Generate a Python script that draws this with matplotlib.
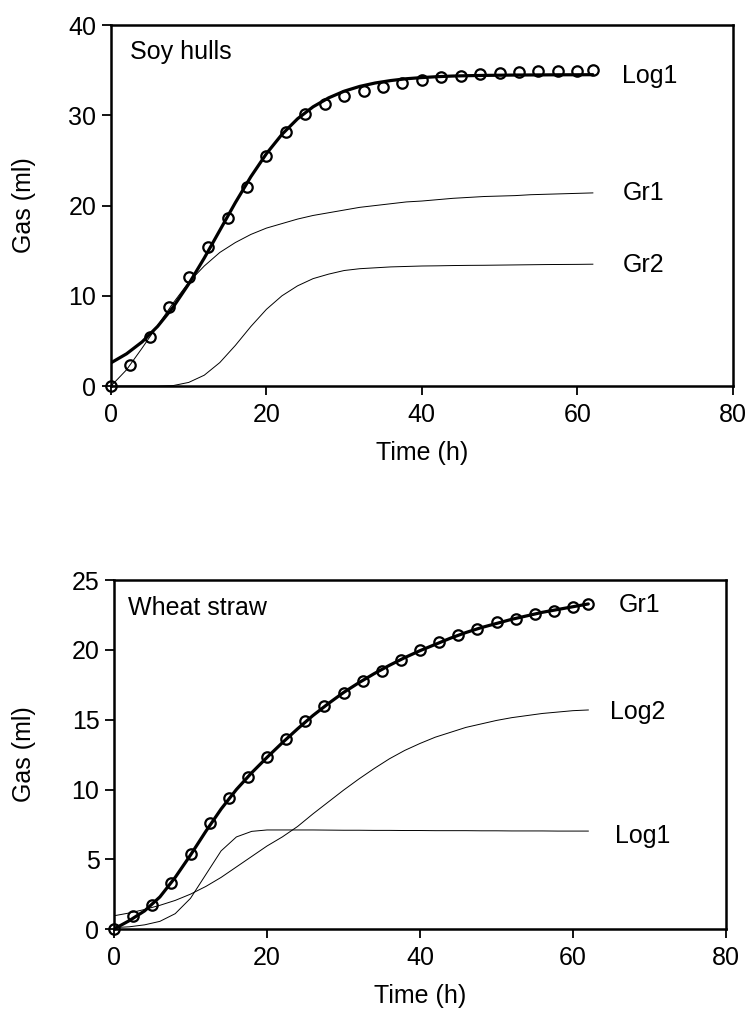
import matplotlib
matplotlib.use("Agg")
import matplotlib.pyplot as plt

plt.rcParams['font.family'] = ['Liberation Sans', 'DejaVu Sans']

# ---------------- Soy hulls (top) ----------------
obs_time = [0, 2.5, 5, 7.5, 10, 12.5, 15, 17.5, 20, 22.5, 25, 27.5, 30, 32.5,
            35, 37.5, 40, 42.5, 45, 47.5, 50, 52.5, 55, 57.5, 60, 62]
soy_obs = [0.0, 2.3, 5.4, 8.8, 12.1, 15.4, 18.6, 22.1, 25.5, 28.2, 30.1, 31.3,
           32.1, 32.7, 33.1, 33.6, 33.9, 34.2, 34.4, 34.6, 34.7, 34.8, 34.9,
           34.9, 34.9, 35.0]

fit_time = [0, 2, 4, 6, 8, 10, 12, 14, 16, 18, 20, 22, 24, 26, 28, 30, 32, 34,
            36, 38, 40, 42, 44, 46, 48, 50, 52, 54, 56, 58, 60, 62]
soy_log1 = [2.57, 3.57, 4.89, 6.61, 8.75, 11.31, 14.18, 17.25, 20.32, 23.2,
            25.75, 27.89, 29.61, 30.94, 31.93, 32.67, 33.2, 33.58, 33.85,
            34.05, 34.18, 34.28, 34.35, 34.39, 34.42, 34.44, 34.46, 34.47,
            34.48, 34.49, 34.49, 34.5]
soy_gr1 = [0.0, 1.8, 4.2, 6.7, 9.2, 11.5, 13.3, 14.8, 15.9, 16.8, 17.5, 18.0,
           18.5, 18.9, 19.2, 19.5, 19.8, 20.0, 20.2, 20.4, 20.5, 20.65, 20.8,
           20.9, 21.0, 21.05, 21.1, 21.2, 21.25, 21.3, 21.35, 21.4]
soy_gr2 = [0.0, 0.0, 0.0, 0.0, 0.05, 0.4, 1.2, 2.6, 4.5, 6.6, 8.5, 10.0, 11.1,
           11.9, 12.4, 12.8, 13.0, 13.1, 13.2, 13.25, 13.3, 13.32, 13.35,
           13.37, 13.38, 13.4, 13.42, 13.44, 13.46, 13.47, 13.48, 13.5]

# ---------------- Wheat straw (bottom) ----------------
wheat_obs = [0.0, 0.96, 1.7, 3.3, 5.4, 7.6, 9.4, 10.9, 12.3, 13.6, 14.9, 16.0,
             16.9, 17.8, 18.5, 19.3, 20.0, 20.6, 21.1, 21.5, 22.0, 22.2, 22.6,
             22.8, 23.1, 23.3]
wheat_gr1 = [0.0, 0.6, 1.3, 2.3, 3.7, 5.3, 7.0, 8.6, 10.0, 11.2, 12.3, 13.35,
             14.35, 15.3, 16.15, 16.95, 17.65, 18.3, 18.9, 19.45, 19.95, 20.4,
             20.85, 21.25, 21.6, 21.9, 22.2, 22.45, 22.7, 22.9, 23.1, 23.3]
wheat_log1 = [0.1, 0.16, 0.3, 0.55, 1.1, 2.2, 3.9, 5.6, 6.6, 7.0, 7.1, 7.1,
              7.1, 7.1, 7.09, 7.08, 7.08, 7.07, 7.07, 7.06, 7.06, 7.05, 7.05,
              7.05, 7.04, 7.04, 7.03, 7.03, 7.03, 7.02, 7.02, 7.02]
wheat_log2 = [0.95, 1.15, 1.4, 1.7, 2.05, 2.5, 3.05, 3.7, 4.45, 5.2, 5.95, 6.6,
              7.35, 8.25, 9.1, 9.95, 10.75, 11.5, 12.2, 12.8, 13.3, 13.75,
              14.1, 14.45, 14.7, 14.95, 15.15, 15.3, 15.45, 15.55, 15.65, 15.7]

x_ticks = [0, 20, 40, 60, 80]
soy_yticks = [0, 10, 20, 30, 40]
wheat_yticks = [0, 5, 10, 15, 20, 25]

FS = 18
fig = plt.figure(figsize=(7.5, 10.14), dpi=100)
ax1 = fig.add_axes([0.148, 0.6193, 0.829, 0.356])
ax2 = fig.add_axes([0.152, 0.0838, 0.816, 0.344])


def style(ax, yticks, ymax, ylab_x):
    ax.set_xlim(0, 80)
    ax.set_ylim(0, ymax)
    ax.set_xticks(x_ticks)
    ax.set_yticks(yticks)
    ax.tick_params(direction='out', length=6.5, width=1.3, labelsize=FS,
                   top=False, right=False, pad=4)
    ax.tick_params(axis='x', pad=6)
    for sp in ax.spines.values():
        sp.set_linewidth(1.8)
    ax.set_xlabel('Time (h)', fontsize=FS, labelpad=10)
    ax.set_ylabel('Gas (ml)', fontsize=FS)
    ax.yaxis.set_label_coords(ylab_x, 0.5)


def curves(ax, fits, obs, thick_idx):
    for i, f in enumerate(fits):
        if i == thick_idx:
            ax.plot(fit_time, f, color='black', lw=2.3, solid_capstyle='round',
                    zorder=3)
        else:
            ax.plot(fit_time, f, color='black', lw=0.7, zorder=2)
    ax.plot(obs_time, obs, linestyle='none', marker='o', markersize=7.5,
            markerfacecolor='none', markeredgecolor='black',
            markeredgewidth=1.6, zorder=4, clip_on=False)


# top
curves(ax1, [soy_log1, soy_gr1, soy_gr2], soy_obs, 0)
style(ax1, soy_yticks, 40, -0.121)
ax1.text(2.4, 37.0, 'Soy hulls', fontsize=FS, va='center', ha='left')
ax1.text(65.8, 34.4, 'Log1', fontsize=FS, va='center', ha='left')
ax1.text(65.8, 21.4, 'Gr1', fontsize=FS, va='center', ha='left')
ax1.text(65.8, 13.4, 'Gr2', fontsize=FS, va='center', ha='left')

# bottom
curves(ax2, [wheat_gr1, wheat_log2, wheat_log1], wheat_obs, 0)
style(ax2, wheat_yticks, 25, -0.127)
ax2.text(1.8, 23.0, 'Wheat straw', fontsize=FS, va='center', ha='left')
ax2.text(66.0, 23.2, 'Gr1', fontsize=FS, va='center', ha='left')
ax2.text(64.9, 15.55, 'Log2', fontsize=FS, va='center', ha='left')
ax2.text(65.5, 6.7, 'Log1', fontsize=FS, va='center', ha='left')

fig.savefig('out.png', dpi=100)
